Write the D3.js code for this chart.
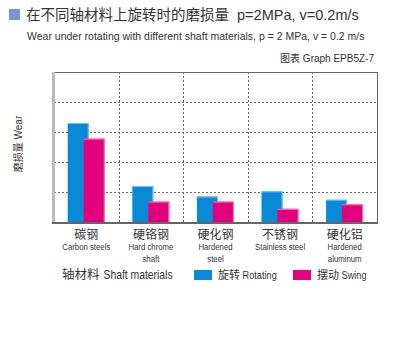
<!DOCTYPE html>
<html><head><meta charset="utf-8">
<script src="https://cdn.jsdelivr.net/npm/d3@7"></script>
<style>body{margin:0;background:#fff}svg{display:block}text{font-family:"Liberation Sans","Noto Sans CJK SC",sans-serif;fill:#333}</style>
</head><body><svg id="c" width="400" height="360"></svg>
<script>
const categoriesZh = ["碳钢","硬铬钢","硬化钢","不锈钢","硬化铝"];
const categoriesEn = [["Carbon steels"],["Hard chrome","shaft"],["Hardened","steel"],["Stainless steel"],["Hardened","aluminum"]];
const rotating = [3.3, 1.2, 0.85, 1.02, 0.74];
const swing = [2.78, 0.68, 0.68, 0.44, 0.59];
const yTicks = [0,1,2,3,4,5];
const seriesZh = ["旋转","摆动"];
const seriesEn = ["Rotating","Swing"];
const colors = ["#0a8ad6","#e2007f"];
const edge = ["#6cc6f0","#f27fbf"];

const svg = d3.select("#c");
const L=54, R=377, T=72, B=222;
const x = d3.scaleBand().domain(categoriesZh).range([L,R]);
const y = d3.scaleLinear().domain([0,5]).range([B,T]);

function narrow(px, py, txt, size, sx, anchor){
  return svg.append("text").attr("transform",`translate(${px},${py}) scale(${sx},1)`)
    .attr("font-size",size).attr("text-anchor",anchor||"start").text(txt);
}

// title
svg.append("rect").attr("x",9).attr("y",9).attr("width",11).attr("height",11).attr("fill","#7f95d1");
svg.append("text").attr("x",26).attr("y",20).attr("font-size",14.5).attr("fill","#222").text("在不同轴材料上旋转时的磨损量\u00a0\u00a0p=2MPa, v=0.2m/s");
svg.append("text").attr("x",27).attr("y",40).attr("font-size",10.5).text("Wear under rotating with different shaft materials, p = 2 MPa, v = 0.2 m/s");
svg.append("text").attr("x",374).attr("y",62).attr("font-size",10).attr("text-anchor","end").attr("fill","#555").text("图表 Graph EPB5Z-7");

// grid
const g = svg.append("g");
g.selectAll(".hg").data(yTicks.filter(d=>d>0&&d<5)).join("line")
 .attr("x1",L).attr("x2",R).attr("y1",d=>Math.round(y(d))+0.5).attr("y2",d=>Math.round(y(d))+0.5)
 .attr("stroke","#666").attr("stroke-dasharray","2,2");
g.selectAll(".vg").data(categoriesZh.slice(1)).join("line")
 .attr("x1",d=>Math.round(x(d))+0.5).attr("x2",d=>Math.round(x(d))+0.5).attr("y1",T).attr("y2",B)
 .attr("stroke","#666").attr("stroke-dasharray","2,2");
// frame
svg.append("line").attr("x1",L).attr("x2",R).attr("y1",T+0.5).attr("y2",T+0.5).attr("stroke","#666");
svg.append("line").attr("x1",R+0.5).attr("x2",R+0.5).attr("y1",T).attr("y2",B).attr("stroke","#666");

// bars
const bw = 21;
categoriesZh.forEach((c,i)=>{
  const cx = x(c)+x.bandwidth()/2;
  [[rotating[i], cx-18.6, 0],[swing[i], cx-2.6, 1]].forEach(([v,x0,s])=>{
    svg.append("rect").attr("x",x0).attr("y",y(v)).attr("width",bw).attr("height",B-y(v)).attr("fill",colors[s]);
    svg.append("rect").attr("x",x0).attr("y",y(v)).attr("width",bw).attr("height",1).attr("fill",edge[s]);
    svg.append("rect").attr("x",x0+bw-1).attr("y",y(v)).attr("width",1).attr("height",B-y(v)).attr("fill",edge[s]);
  });
});

// axes
svg.append("line").attr("x1",L-0.5).attr("x2",L-0.5).attr("y1",T).attr("y2",B+1).attr("stroke","#bbb").attr("stroke-width",3);
svg.append("line").attr("x1",L-2).attr("x2",R+1).attr("y1",B+1).attr("y2",B+1).attr("stroke","#666").attr("stroke-width",2);

// category labels
categoriesZh.forEach((c,i)=>{
  const cx = x(c)+x.bandwidth()/2;
  svg.append("text").attr("x",cx).attr("y",239).attr("font-size",12).attr("text-anchor","middle").text(c);
  categoriesEn[i].forEach((t,j)=>{
    narrow(cx, 250+j*11.8, t, 9.5, 0.82, "middle");
  });
});

// y title
svg.append("text").attr("transform","translate(22,144) rotate(-90)").attr("font-size",10).attr("text-anchor","middle").text("磨损量 Wear");

// legend
svg.append("text").attr("x",62).attr("y",279).attr("font-size",12.5).text("轴材料");
narrow(103.5, 279, "Shaft materials", 12.5, 0.83);
const lx=[194,293];
seriesZh.forEach((n,i)=>{
  svg.append("rect").attr("x",lx[i]).attr("y",270).attr("width",18).attr("height",10).attr("fill",colors[i]);
  svg.append("text").attr("x",lx[i]+24).attr("y",279).attr("font-size",11).text(n);
  narrow(lx[i]+48.5, 279, seriesEn[i], 11.5, 0.8);
});
</script></body></html>
